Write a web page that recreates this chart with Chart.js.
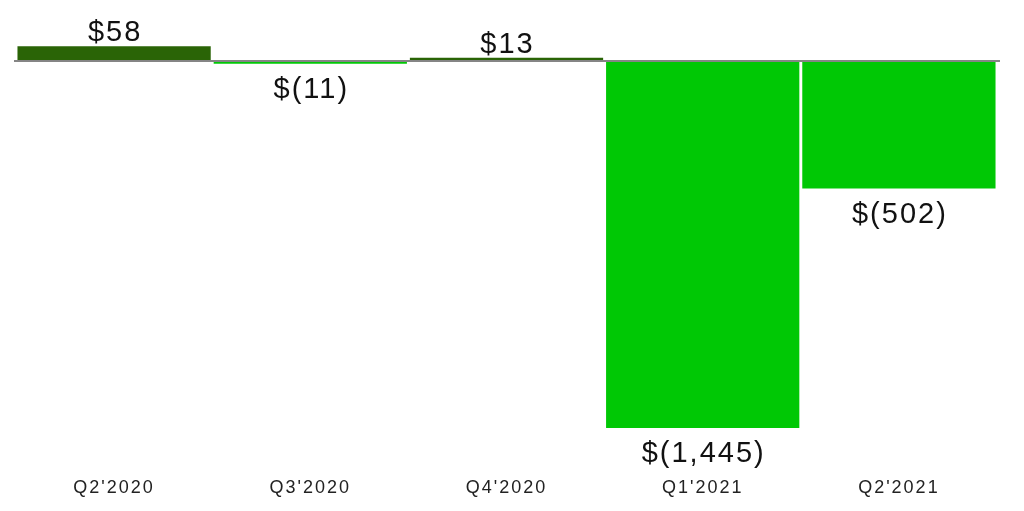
<!DOCTYPE html>
<html>
<head>
<meta charset="utf-8">
<script src="https://cdn.jsdelivr.net/npm/chart.js@4/dist/chart.umd.min.js"></script>
<style>
  html, body { margin: 0; padding: 0; background: #fff; }
  #wrap { width: 1024px; height: 511px; }
</style>
</head>
<body>
<div id="wrap"><canvas id="canvas"></canvas></div>
<script>
var quarters = ["Q2'2020", "Q3'2020", "Q4'2020", "Q1'2021", "Q2'2021"];
var netIncome = [58, -11, 13, -1445, -502];
var valueLabels = ['$58', '$(11)', '$13', '$(1,445)', '$(502)'];

var darkGreen = '#2a6406';
var brightGreen = '#00c805';

// zero line + value labels
var overlay = {
  id: 'overlay',
  beforeDraw: function(chart) {
    chart.ctx.letterSpacing = '2px';
  },
  afterDatasetsDraw: function(chart) {
    var ctx = chart.ctx;
    var y = chart.scales.y;
    var area = chart.chartArea;
    var zero = Math.round(y.getPixelForValue(0));
    ctx.save();
    ctx.strokeStyle = '#858585';
    ctx.lineWidth = 2;
    ctx.beginPath();
    ctx.moveTo(area.left - 2, zero);
    ctx.lineTo(area.right + 3, zero);
    ctx.stroke();

    ctx.font = '29px "Liberation Sans", Arial, sans-serif';
    ctx.letterSpacing = '2px';
    ctx.fillStyle = '#111';
    ctx.textAlign = 'center';
    ctx.textBaseline = 'alphabetic';
    var meta = chart.getDatasetMeta(0);
    meta.data.forEach(function(bar, i) {
      var v = netIncome[i];
      var ty = v >= 0 ? bar.y - 5 : bar.y + 34;
      ctx.fillText(valueLabels[i], bar.x + 1, ty);
    });
    ctx.restore();
  }
};

window.onload = function() {
  var ctx = document.getElementById('canvas').getContext('2d');
  window.myBar = new Chart(ctx, {
    type: 'bar',
    data: {
      labels: quarters,
      datasets: [{
        data: netIncome,
        backgroundColor: netIncome.map(function(v) { return v >= 0 ? darkGreen : brightGreen; }),
        borderWidth: 0,
        categoryPercentage: 1,
        barPercentage: 0.985
      }]
    },
    options: {
      responsive: true,
      maintainAspectRatio: false,
      animation: false,
      layout: { padding: { top: 10, left: 16, right: 27, bottom: 12 } },
      plugins: {
        legend: { display: false },
        tooltip: { enabled: false },
        title: { display: false }
      },
      scales: {
        x: {
          grid: { display: false, drawTicks: false },
          border: { display: false },
          afterFit: function(scale) { scale.height = 71; },
          ticks: {
            padding: 49,
            maxRotation: 0,
            color: '#222',
            font: { size: 18, family: '"Liberation Sans", Arial, sans-serif' }
          }
        },
        y: {
          display: false,
          min: -1445,
          max: 201
        }
      }
    },
    plugins: [overlay]
  });
};
</script>
</body>
</html>
